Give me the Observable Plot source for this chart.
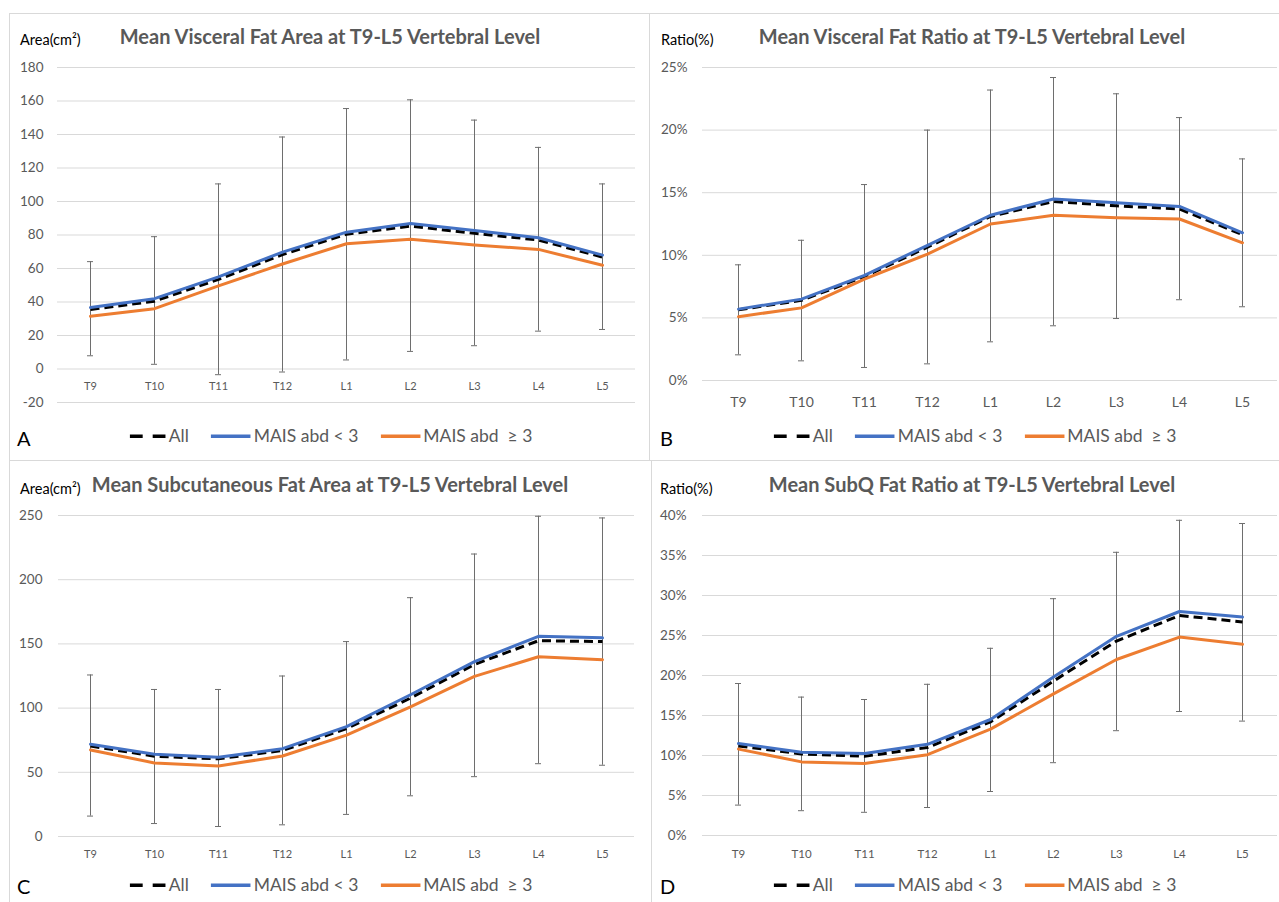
<!DOCTYPE html>
<html>
<head>
<meta charset="utf-8">
<script src="https://cdn.jsdelivr.net/npm/d3@7"></script>
<script src="https://cdn.jsdelivr.net/npm/@observablehq/plot@0.6"></script>
<style>
  body { margin: 0; background: #fff; font-family: Lato, "Open Sans", sans-serif; }
  #fig { position: relative; width: 1279px; height: 902px; overflow: hidden; background: #fff; }
  .box { position: absolute; border: 1px solid #d9d9d9; box-sizing: border-box; }
  .title { position: absolute; font-weight: bold; color: #595959; font-size: 20px; white-space: nowrap; transform: translate(-50%, -50%); line-height: 1; }
  .unit { position: absolute; color: #000; font-size: 14.5px; white-space: nowrap; transform: translateY(-50%); line-height: 1; }
  .letter { position: absolute; color: #000; font-size: 20px; transform: translateY(-50%); line-height: 1; }
  .legend { position: absolute; display: flex; align-items: center; transform: translate(-50%, -50%); color: #595959; font-size: 17.5px; white-space: nowrap; line-height: 1; }
  .legend .item { display: flex; align-items: center; margin: 0 11px; }
  .legend svg { margin-right: 3px; }
  .plotwrap { position: absolute; }
  .plotwrap svg { overflow: visible; }
</style>
</head>
<body>
<div id="fig"></div>
<script>
// ---------- data ----------
const levels = ["T9", "T10", "T11", "T12", "L1", "L2", "L3", "L4", "L5"];
const seriesNames = ["All", "MAIS abd < 3", "MAIS abd \u00a0\u2265 3"];

// A: mean visceral fat area (cm²)
const vfaAll  = [35.5, 40.5, 53.5, 68.3, 80.5, 85.3, 81.0, 77.0, 66.8];
const vfaLow  = [36.7, 42.0, 55.0, 69.8, 81.7, 86.9, 82.7, 78.4, 68.0];
const vfaHigh = [31.5, 36.0, 49.6, 62.7, 74.8, 77.4, 74.0, 71.4, 61.9];
const vfaErrLo = [7.9, 2.8, -3.4, -1.8, 5.4, 10.5, 13.9, 22.6, 23.6];
const vfaErrHi = [64.1, 79.0, 110.5, 138.5, 155.5, 160.7, 148.6, 132.3, 110.5];
const vfaTicks = [-20, 0, 20, 40, 60, 80, 100, 120, 140, 160, 180];

// B: mean visceral fat ratio (%)
const vfrAll  = [5.65, 6.4, 8.3, 10.65, 13.1, 14.3, 13.95, 13.7, 11.65];
const vfrLow  = [5.7, 6.5, 8.4, 10.8, 13.2, 14.5, 14.2, 13.9, 11.8];
const vfrHigh = [5.1, 5.8, 8.1, 10.1, 12.5, 13.2, 13.0, 12.9, 11.0];
const vfrErrLo = [2.05, 1.57, 1.04, 1.33, 3.09, 4.37, 4.95, 6.45, 5.89];
const vfrErrHi = [9.24, 11.2, 15.65, 20.0, 23.2, 24.2, 22.9, 21.0, 17.7];
const vfrTicks = [0, 5, 10, 15, 20, 25];

// C: mean subcutaneous fat area (cm²)
const sfaAll  = [70.5, 62.5, 60.5, 67.0, 84.0, 107.8, 134.0, 152.5, 151.8];
const sfaLow  = [71.9, 64.0, 61.7, 68.4, 85.6, 110.4, 136.2, 155.9, 154.7];
const sfaHigh = [67.4, 57.3, 54.9, 62.7, 78.9, 101.0, 124.7, 140.0, 137.7];
const sfaErrLo = [15.9, 10.1, 7.8, 9.1, 17.2, 31.7, 46.6, 56.7, 55.5];
const sfaErrHi = [125.8, 114.5, 114.5, 125.0, 151.8, 186.0, 220.0, 249.4, 248.1];
const sfaTicks = [0, 50, 100, 150, 200, 250];

// D: mean subQ fat ratio (%)
const sfrAll  = [11.2, 10.2, 9.9, 11.0, 14.2, 19.3, 24.3, 27.5, 26.7];
const sfrLow  = [11.5, 10.4, 10.25, 11.4, 14.5, 19.8, 24.9, 28.0, 27.3];
const sfrHigh = [10.8, 9.2, 9.0, 10.1, 13.3, 17.7, 22.0, 24.8, 23.9];
const sfrErrLo = [3.8, 3.1, 2.9, 3.5, 5.5, 9.1, 13.1, 15.5, 14.3];
const sfrErrHi = [19.0, 17.3, 17.0, 18.9, 23.4, 29.6, 35.4, 39.4, 39.0];
const sfrTicks = [0, 5, 10, 15, 20, 25, 30, 35, 40];

// ---------- styling ----------
const COL_ALL = "#000000", COL_LOW = "#4472C4", COL_HIGH = "#ED7D31";
const GRID = "#d9d9d9", ERR = "#6e6e6e", TXT = "#595959";

const panels = [
  { letter: "A", title: "Mean Visceral Fat Area at T9-L5 Vertebral Level", unit: "Area(cm²)",
    all: vfaAll, low: vfaLow, high: vfaHigh, elo: vfaErrLo, ehi: vfaErrHi, ticks: vfaTicks, pct: false,
    box: [9, 13, 641, 448], titleXY: [330, 36], unitXY: [20, 40], letterXY: [17, 438], legendXY: [331, 436],
    svg: { left: 0, top: 50, width: 640, height: 370, mL: 57, mR: 5, mT: 17, mB: 18, pad: 14, xdy: 17, xfs: 11, yfs: 13.5 } },
  { letter: "B", title: "Mean Visceral Fat Ratio at T9-L5 Vertebral Level", unit: "Ratio(%)",
    all: vfrAll, low: vfrLow, high: vfrHigh, elo: vfrErrLo, ehi: vfrErrHi, ticks: vfrTicks, pct: true,
    box: [649, 13, 640, 448], titleXY: [972, 36], unitXY: [661, 40], letterXY: [660, 438], legendXY: [975, 436],
    svg: { left: 640, top: 50, width: 639, height: 370, mL: 62, mR: 2, mT: 17, mB: 40, pad: 15, xdy: 22, xfs: 14, yfs: 13.5 } },
  { letter: "C", title: "Mean Subcutaneous Fat Area at T9-L5 Vertebral Level", unit: "Area(cm²)",
    all: sfaAll, low: sfaLow, high: sfaHigh, elo: sfaErrLo, ehi: sfaErrHi, ticks: sfaTicks, pct: false,
    box: [9, 460, 643, 460], titleXY: [330, 484], unitXY: [20, 489], letterXY: [17, 886], legendXY: [331, 885],
    svg: { left: 0, top: 495, width: 640, height: 370, mL: 58, mR: 6, mT: 20, mB: 29, pad: 16, xdy: 18, xfs: 11, yfs: 13.5 } },
  { letter: "D", title: "Mean SubQ Fat Ratio at T9-L5 Vertebral Level", unit: "Ratio(%)",
    all: sfrAll, low: sfrLow, high: sfrHigh, elo: sfrErrLo, ehi: sfrErrHi, ticks: sfrTicks, pct: true,
    box: [651, 460, 640, 460], titleXY: [972, 484], unitXY: [660, 489], letterXY: [660, 886], legendXY: [975, 885],
    svg: { left: 640, top: 495, width: 639, height: 370, mL: 62, mR: 2, mT: 20, mB: 30, pad: 16, xdy: 19, xfs: 11.5, yfs: 13.5 } }
];

const fig = document.getElementById("fig");

function el(cls, x, y, html) {
  const d = document.createElement("div");
  d.className = cls;
  d.style.left = x + "px";
  d.style.top = y + "px";
  d.innerHTML = html;
  fig.appendChild(d);
  return d;
}

function swatch(kind) {
  const w = kind === "all" ? 36 : 40;
  const color = kind === "all" ? COL_ALL : kind === "low" ? COL_LOW : COL_HIGH;
  const dash = kind === "all" ? 'stroke-dasharray="13,10"' : "";
  return `<svg width="${w}" height="10"><line x1="0" y1="5" x2="${w}" y2="5" stroke="${color}" stroke-width="3.5" ${dash}/></svg>`;
}

for (const p of panels) {
  const b = el("box", p.box[0], p.box[1], "");
  b.style.width = p.box[2] + "px";
  b.style.height = p.box[3] + "px";

  el("title", p.titleXY[0], p.titleXY[1], p.title);
  el("unit", p.unitXY[0], p.unitXY[1], p.unit);
  el("letter", p.letterXY[0], p.letterXY[1], p.letter);
  el("legend", p.legendXY[0], p.legendXY[1],
    `<span class="item">${swatch("all")}${seriesNames[0]}</span>` +
    `<span class="item">${swatch("low")}${seriesNames[1]}</span>` +
    `<span class="item">${swatch("high")}${seriesNames[2]}</span>`);

  const rows = levels.map((lv, i) => ({
    lv, all: p.all[i], low: p.low[i], high: p.high[i], elo: p.elo[i], ehi: p.ehi[i]
  }));
  const s = p.svg;
  const fmt = p.pct ? (d => d + "%") : (d => String(d));

  const chart = Plot.plot({
    width: s.width,
    height: s.height,
    marginLeft: s.mL,
    marginRight: s.mR,
    marginTop: s.mT,
    marginBottom: s.mB,
    style: { fontFamily: "Lato, sans-serif", fontSize: s.yfs + "px", color: TXT, background: "transparent", overflow: "visible" },
    x: { type: "point", domain: levels, padding: 0.5, axis: null },
    y: { domain: [p.ticks[0], p.ticks[p.ticks.length - 1]], ticks: p.ticks, tickFormat: fmt, tickSize: 0, tickPadding: s.pad, label: null },
    marks: [
      Plot.ruleY(p.ticks, { stroke: GRID, strokeWidth: 1 }),
      Plot.text(levels, { x: d => d, y: () => 0, dy: s.xdy, text: d => d, fontSize: s.xfs, fill: TXT }),
      Plot.ruleX(rows, { x: "lv", y1: "elo", y2: "ehi", stroke: ERR, strokeWidth: 1 }),
      Plot.ruleY(rows, { x1: "lv", x2: "lv", y: "ehi", stroke: ERR, strokeWidth: 1, insetLeft: -3, insetRight: -3 }),
      Plot.ruleY(rows, { x1: "lv", x2: "lv", y: "elo", stroke: ERR, strokeWidth: 1, insetLeft: -3, insetRight: -3 }),
      Plot.lineY(rows, { x: "lv", y: "all", stroke: COL_ALL, strokeWidth: 3, strokeDasharray: "9,5", strokeLinecap: "butt" }),
      Plot.lineY(rows, { x: "lv", y: "low", stroke: COL_LOW, strokeWidth: 3 }),
      Plot.lineY(rows, { x: "lv", y: "high", stroke: COL_HIGH, strokeWidth: 3 })
    ]
  });

  const wrap = document.createElement("div");
  wrap.className = "plotwrap";
  wrap.style.left = s.left + "px";
  wrap.style.top = s.top + "px";
  wrap.appendChild(chart);
  fig.appendChild(wrap);
}
</script>
</body>
</html>
